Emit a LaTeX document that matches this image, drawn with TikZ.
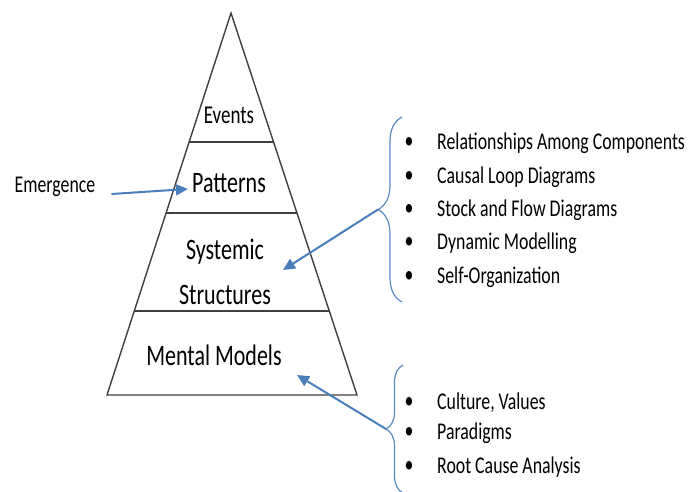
\documentclass[tikz,border=0pt]{standalone}
\usepackage{fontspec}
\setmainfont{Carlito}
\usetikzlibrary{arrows.meta,positioning,calc,decorations.pathreplacing}
\definecolor{arrowblue}{HTML}{4A7EBB}
\definecolor{braceblue}{HTML}{5B8BC4}
\definecolor{pyrgray}{HTML}{3F3F3F}
\newcommand{\tallbox}[1]{\scalebox{1}[1.35]{#1}}

\begin{document}
\begin{tikzpicture}[x=1pt,y=-1pt,
  layer/.style={font=\fontsize{22}{45}\selectfont,inner sep=2pt,align=center},
  small/.style={font=\fontsize{18}{22}\selectfont,inner sep=2pt},
  item/.style={font=\fontsize{17.8}{21}\selectfont,anchor=west,inner sep=0pt},
  dot/.style={font=\fontsize{17.8}{21}\selectfont,inner sep=0pt},
  arr/.style={-{Triangle[length=12pt,width=11pt]},line width=2pt,arrowblue},
  curly/.style={decorate,decoration={brace,amplitude=#1},braceblue,line width=1.2pt},
  tri/.style={pyrgray,line width=1.4pt},
  divider/.style={pyrgray,line width=2pt}
]
\useasboundingbox (0,0) rectangle (689,491);
% pyramid
\coordinate (apex) at (231,13);
\coordinate (bl) at (107,395);
\coordinate (br) at (357,395);
\draw[tri] (apex) -- (bl) -- (br) -- cycle;
\foreach \t in {0.338,0.524,0.780}
  \draw[divider] ($(apex)!\t!(bl)$) -- ($(apex)!\t!(br)$);

% layers
\node[small,font=\fontsize{19}{23}\selectfont] (events) at (229,115) {\tallbox{Events}};
\node[layer] (patterns) at (229,183) {\tallbox{Patterns}};
\node[layer] (structures) at (225,272) {\tallbox{Systemic}\\\tallbox{Structures}};
\node[layer] (mental) at (214,355) {\tallbox{Mental Models}};

% emergence
\node[small,font=\fontsize{17.8}{21}\selectfont] (emergence) at (55,187) {\tallbox{Emergence}};
\draw[arr] ($(emergence.east)+(14,7)$) -- ($(patterns.west)+(-2,6)$);

% structure tools
\foreach \y/\txt [count=\i] in {143/Relationships Among Components,177/Causal Loop Diagrams,
    210/Stock and Flow Diagrams,243/Dynamic Modelling,277/Self-Organization}{
  \node[dot] (ba\i) at (409,\y) {\tallbox{\textbullet}};
  \node[item] (ta\i) at (437,\y) {\tallbox{\txt}};
}
\draw[curly=24pt] (402,302) -- (402,117);
\coordinate (tipA) at (378,209.5);
\coordinate (endA) at (283,270);
\draw[arr] (tipA) -- (endA);

% mental model tools
\foreach \y/\txt [count=\i] in {403/{Culture, Values},433/Paradigms,467/Root Cause Analysis}{
  \node[dot] (bb\i) at (409,\y) {\tallbox{\textbullet}};
  \node[item] (tb\i) at (437,\y) {\tallbox{\txt}};
}
\draw[curly=17pt] (403,493) -- (403,365);
\coordinate (tipB) at (386,429);
\coordinate (endB) at (297,375);
\draw[arr] (tipB) -- (endB);
\end{tikzpicture}
\end{document}
